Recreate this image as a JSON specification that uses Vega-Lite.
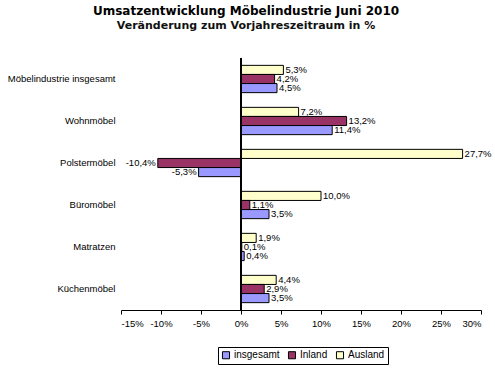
{
  "$schema": "https://vega.github.io/schema/vega-lite/v6.json",
  "width": 360,
  "height": 252,
  "autosize": {"type": "none"},
  "padding": {"left": 121, "top": 58, "right": 14, "bottom": 60},
  "background": "white",
  "title": {
    "text": "Umsatzentwicklung Möbelindustrie Juni 2010",
    "subtitle": "Veränderung zum Vorjahreszeitraum in %",
    "anchor": "middle",
    "dx": -55,
    "offset": 26,
    "font": "DejaVu Sans",
    "fontSize": 12,
    "fontWeight": "bold",
    "color": "black",
    "subtitleFont": "DejaVu Sans",
    "subtitleFontSize": 11,
    "subtitleFontWeight": "bold",
    "subtitleColor": "#111111",
    "subtitlePadding": 2
  },
  "data": {
    "values": [
      {"category": "Möbelindustrie insgesamt", "series": "Ausland", "value": 5.3},
      {"category": "Möbelindustrie insgesamt", "series": "Inland", "value": 4.2},
      {"category": "Möbelindustrie insgesamt", "series": "insgesamt", "value": 4.5},
      {"category": "Wohnmöbel", "series": "Ausland", "value": 7.2},
      {"category": "Wohnmöbel", "series": "Inland", "value": 13.2},
      {"category": "Wohnmöbel", "series": "insgesamt", "value": 11.4},
      {"category": "Polstermöbel", "series": "Ausland", "value": 27.7},
      {"category": "Polstermöbel", "series": "Inland", "value": -10.4},
      {"category": "Polstermöbel", "series": "insgesamt", "value": -5.3},
      {"category": "Büromöbel", "series": "Ausland", "value": 10.0},
      {"category": "Büromöbel", "series": "Inland", "value": 1.1},
      {"category": "Büromöbel", "series": "insgesamt", "value": 3.5},
      {"category": "Matratzen", "series": "Ausland", "value": 1.9},
      {"category": "Matratzen", "series": "Inland", "value": 0.1},
      {"category": "Matratzen", "series": "insgesamt", "value": 0.4},
      {"category": "Küchenmöbel", "series": "Ausland", "value": 4.4},
      {"category": "Küchenmöbel", "series": "Inland", "value": 2.9},
      {"category": "Küchenmöbel", "series": "insgesamt", "value": 3.5}
    ]
  },
  "transform": [
    {"calculate": "replace(replace(format(datum.value, '.1f'), '.', ','), '\u2212', '-') + '%'", "as": "label"}
  ],
  "encoding": {
    "y": {
      "field": "category",
      "type": "nominal",
      "sort": ["Möbelindustrie insgesamt", "Wohnmöbel", "Polstermöbel", "Büromöbel", "Matratzen", "Küchenmöbel"],
      "scale": {"paddingInner": 0.35, "paddingOuter": 0.175},
      "axis": {
        "title": null,
        "domain": false,
        "ticks": false,
        "labelPadding": 6,
        "labelFont": "Liberation Sans",
        "labelFontSize": 9.5,
        "labelColor": "black"
      }
    },
    "yOffset": {
      "field": "series",
      "type": "nominal",
      "sort": ["Ausland", "Inland", "insgesamt"],
      "scale": {"paddingInner": 0}
    },
    "x": {
      "field": "value",
      "type": "quantitative",
      "scale": {"domain": [-15, 30], "nice": false},
      "axis": {
        "title": null,
        "grid": false,
        "values": [-15, -10, -5, 0, 5, 10, 15, 20, 25, 30],
        "labelExpr": "datum.value + '%'",
        "labelOverlap": false,
        "labelBound": false,
        "domainColor": "black",
        "tickColor": "black",
        "tickSize": 4,
        "labelFont": "Liberation Sans",
        "labelFontSize": 9.5,
        "labelColor": "black",
        "labelPadding": 4
      }
    }
  },
  "layer": [
    {
      "mark": {"type": "bar", "stroke": "black", "strokeWidth": 1},
      "encoding": {
        "color": {
          "field": "series",
          "type": "nominal",
          "scale": {
            "domain": ["insgesamt", "Inland", "Ausland"],
            "range": ["#9999FF", "#993366", "#FFFFCC"]
          },
          "legend": {
            "title": null,
            "orient": "none",
            "direction": "horizontal",
            "legendX": 97,
            "legendY": 289,
            "symbolType": "square",
            "symbolSize": 50,
            "symbolStrokeColor": "black",
            "symbolStrokeWidth": 1,
            "labelFont": "Liberation Sans",
            "labelFontSize": 10,
            "labelColor": "black",
            "columnPadding": 6,
            "labelOffset": 3,
            "strokeColor": "black",
            "fillColor": "white",
            "padding": 3
          }
        }
      }
    },
    {
      "transform": [{"filter": "datum.value >= 0"}],
      "mark": {"type": "text", "align": "left", "dx": 2, "font": "Liberation Sans", "fontSize": 9.5, "color": "black"},
      "encoding": {
        "text": {"field": "label"}
      }
    },
    {
      "transform": [{"filter": "datum.value < 0"}],
      "mark": {"type": "text", "align": "right", "dx": -2, "font": "Liberation Sans", "fontSize": 9.5, "color": "black"},
      "encoding": {
        "text": {"field": "label"}
      }
    },
    {
      "mark": {"type": "rule", "color": "black", "strokeWidth": 1},
      "encoding": {"x": {"datum": 0}, "y": null, "yOffset": null}
    }
  ],
  "config": {
    "view": {"stroke": null},
    "axisX": {"labelOverlap": false}
  }
}
